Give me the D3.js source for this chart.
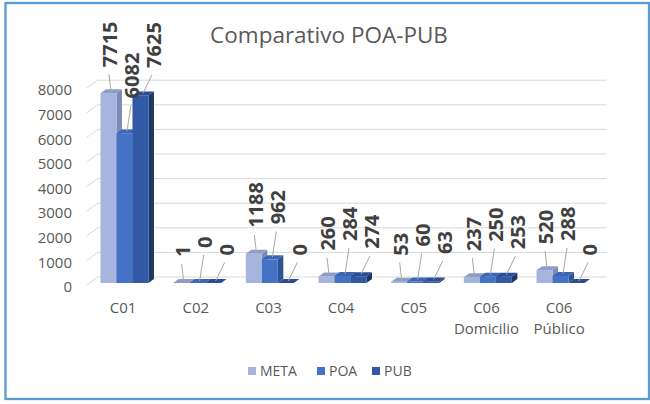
<!DOCTYPE html>
<html>
<head>
<meta charset="utf-8">
<script src="https://cdn.jsdelivr.net/npm/d3@7"></script>
<style>
    html, body { margin: 0; padding: 0; background: #fff; }
    text { font-family: "Open Sans", "Noto Sans", sans-serif; }
</style>
</head>
<body>
<div class="fig"></div>
<script>
/*-------------------------------------------------------*/
/*------------------------ Data -------------------------*/
/*-------------------------------------------------------*/
const categories = ["C01", "C02", "C03", "C04", "C05", "C06 Domicilio", "C06 Público"];
const seriesNames = ["META", "POA", "PUB"];
const metaValues = [7715, 1, 1188, 260, 53, 237, 520];
const poaValues = [6082, 0, 962, 284, 60, 250, 288];
const pubValues = [7625, 0, 0, 274, 63, 253, 0];
const yTicks = [0, 1000, 2000, 3000, 4000, 5000, 6000, 7000, 8000];

const seriesValues = [metaValues, poaValues, pubValues];

/*-------------------------------------------------------*/
/*------------------- Window setting --------------------*/
/*-------------------------------------------------------*/
const svgWidth = 650;
const svgHeight = 404;

// face colours: front, side, top
const colors = [
    { front: "#a6b5dd", side: "#7c8ab5", top: "#8f9dc6" },
    { front: "#4472c4", side: "#2f5293", top: "#3b66b4" },
    { front: "#3258a6", side: "#1f3766", top: "#2b4d92" }
];

// 3D floor geometry
const floorFront = 285;
const depth = { dx: 11, dy: -8 };
const barDepth = { dx: 5.5, dy: -4 };
const barOffset = { dx: 2.75, dy: -2 };
const barWidth = 16;

const x = d3.scaleBand()
    .domain(categories)
    .range([86.75, 595.5]);

const y = d3.scaleLinear()
    .domain([0, 8000])
    .range([0, 196.8]);

const svg = d3.select(".fig").append("svg")
    .attr("width", svgWidth)
    .attr("height", svgHeight);

/*-------------------------------------------------------*/
/*---------------------- Frame --------------------------*/
/*-------------------------------------------------------*/
svg.append("rect")
    .attr("x", 5.5)
    .attr("y", 3)
    .attr("width", 643.5)
    .attr("height", 396)
    .attr("fill", "#fff")
    .attr("stroke", "#5b9bd5")
    .attr("stroke-width", 2.3);

svg.append("text")
    .attr("x", 329)
    .attr("y", 43)
    .attr("text-anchor", "middle")
    .attr("font-size", 22.5)
    .attr("fill", "#595959")
    .text("Comparativo POA-PUB");

/*-------------------------------------------------------*/
/*---------------------- Gridlines ----------------------*/
/*-------------------------------------------------------*/
const [xMin, xMax] = x.range();

const grid = svg.append("g").attr("stroke", "#d9d9d9").attr("stroke-width", 1);

grid.selectAll("line.back")
    .data(yTicks)
    .join("line")
    .attr("class", "back")
    .attr("x1", xMin + depth.dx)
    .attr("x2", xMax + depth.dx)
    .attr("y1", d => floorFront + depth.dy - y(d))
    .attr("y2", d => floorFront + depth.dy - y(d));

grid.selectAll("line.side")
    .data(yTicks)
    .join("line")
    .attr("class", "side")
    .attr("x1", xMin)
    .attr("x2", xMin + depth.dx)
    .attr("y1", d => floorFront - y(d))
    .attr("y2", d => floorFront + depth.dy - y(d));

svg.append("g")
    .selectAll("text")
    .data(yTicks)
    .join("text")
    .attr("x", 72)
    .attr("y", d => floorFront + 2 - y(d))
    .attr("dy", "0.35em")
    .attr("text-anchor", "end")
    .attr("font-size", 15)
    .attr("fill", "#595959")
    .text(d => d);

/*-------------------------------------------------------*/
/*------------------------ Bars -------------------------*/
/*-------------------------------------------------------*/
const groupPad = (x.bandwidth() - 3 * barWidth) / 2 - barOffset.dx / 2;

const bars = [];
categories.forEach((cat, ci) => {
    seriesValues.forEach((vals, si) => {
        const x0 = x(cat) + barOffset.dx + groupPad + si * barWidth;
        const base = floorFront + barOffset.dy;
        const top = base - y(vals[ci]);
        bars.push({ cat, si, value: vals[ci], x0, base, top });
    });
});

const barG = svg.append("g");

bars.forEach(b => {
    const g = barG.append("g");
    const x1 = b.x0 + barWidth;
    const { dx, dy } = barDepth;
    g.append("polygon")
        .attr("points", [[x1, b.top], [x1 + dx, b.top + dy], [x1 + dx, b.base + dy], [x1, b.base]].join(" "))
        .attr("fill", colors[b.si].side);
    g.append("rect")
        .attr("x", b.x0)
        .attr("y", b.top)
        .attr("width", barWidth)
        .attr("height", b.base - b.top)
        .attr("fill", colors[b.si].front);
    g.append("polygon")
        .attr("points", [[b.x0, b.top], [b.x0 + dx, b.top + dy], [x1 + dx, b.top + dy], [x1, b.top]].join(" "))
        .attr("fill", colors[b.si].top);
});

/*-------------------------------------------------------*/
/*-------------------- Data labels ----------------------*/
/*-------------------------------------------------------*/
const labelRise = [26, 35, 27.5];

bars.forEach(b => {
    const metaCenter = b.x0 - b.si * barWidth + barWidth / 2;
    const lx = metaCenter + 1.5 + b.si * 22;
    const ly = b.top - labelRise[b.si];
    const cx = b.x0 + barWidth / 2 + 2.5;

    barG.append("line")
        .attr("x1", lx - (b.si === 2 ? 2 : 1))
        .attr("y1", ly + 7)
        .attr("x2", cx)
        .attr("y2", b.top - 2)
        .attr("stroke", "#a6a6a6")
        .attr("stroke-width", 1);

    barG.append("text")
        .attr("transform", `translate(${lx},${ly}) rotate(-90)`)
        .attr("dy", "0.36em")
        .attr("font-size", 20)
        .attr("font-weight", "bold")
        .attr("fill", "#404040")
        .text(b.value);
});

/*-------------------------------------------------------*/
/*------------------- Category labels -------------------*/
/*-------------------------------------------------------*/
svg.append("g")
    .selectAll("text")
    .data(categories)
    .join("text")
    .attr("x", d => x(d) + x.bandwidth() / 2)
    .attr("y", 313)
    .attr("text-anchor", "middle")
    .attr("font-size", 15)
    .attr("fill", "#595959")
    .each(function (d) {
        const parts = d.split(" ");
        d3.select(this).selectAll("tspan")
            .data(parts)
            .join("tspan")
            .attr("x", x(d) + x.bandwidth() / 2)
            .attr("dy", (p, i) => i === 0 ? 0 : 21)
            .text(p => p);
    });

/*-------------------------------------------------------*/
/*------------------------ Legend -----------------------*/
/*-------------------------------------------------------*/
const legendX = [248, 317, 372];

const legend = svg.append("g")
    .selectAll("g")
    .data(seriesNames)
    .join("g")
    .attr("transform", (d, i) => `translate(${legendX[i]},367)`);

legend.append("rect")
    .attr("width", 8)
    .attr("height", 8)
    .attr("fill", (d, i) => colors[i].front);

legend.append("text")
    .attr("x", 12)
    .attr("y", 9)
    .attr("font-size", 14)
    .attr("fill", "#595959")
    .text(d => d);
</script>
</body>
</html>
